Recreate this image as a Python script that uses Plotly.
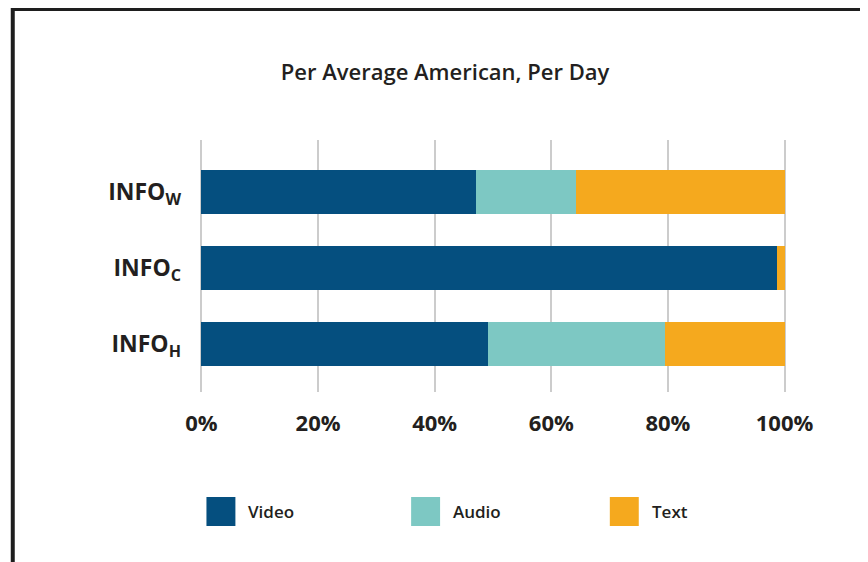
import plotly.graph_objects as go

categories = ["INFO<sub>H</sub>", "INFO<sub>C</sub>", "INFO<sub>W</sub>"]
series_names = ["Video", "Audio", "Text"]
video = [49.2, 98.7, 47.0]
audio = [30.3, 0.0, 17.2]
text = [20.5, 1.3, 35.8]
tick_vals = [0, 20, 40, 60, 80, 100]
tick_text = ["0%", "20%", "40%", "60%", "80%", "100%"]
colors = ["#054f7f", "#7dc8c3", "#f5a91e"]

OFF = 8  # page body margin
W, H = 868 - OFF, 562 - OFF
X0P, X100P, T, B = 201 - OFF, 785 - OFF, 140 - OFF, 392 - OFF
PAD = 0.25  # small range padding so edge gridlines are drawn
ppu = (X100P - X0P) / 100.0
L = X0P - PAD * ppu
R = X100P + PAD * ppu


def px(x):
    return (x - OFF - L) / (R - L)


def py(y):
    return (B - (y - OFF)) / (B - T)


FONT = "Open Sans"
fig = go.Figure()
for name, vals, col in zip(series_names, [video, audio, text], colors):
    fig.add_trace(go.Bar(
        y=categories, x=vals, name=name, orientation="h",
        marker=dict(color=col, line=dict(width=0)), width=0.58,
        showlegend=False, hoverinfo="x+name",
    ))

shapes = []
annotations = []
# border of image
shapes.append(dict(type="rect", xref="paper", yref="paper",
                   x0=px(12), x1=px(900), y0=py(9), y1=py(600),
                   line=dict(color="#1e1e1e", width=4), layer="above"))

# legend drawn with shapes and annotations
leg_x = [206, 411, 610]
for name, col, x0 in zip(series_names, colors, leg_x):
    shapes.append(dict(type="rect", xref="paper", yref="paper",
                       x0=px(x0), x1=px(x0 + 29), y0=py(497), y1=py(526),
                       fillcolor=col, line=dict(width=0)))
    annotations.append(dict(xref="paper", yref="paper", x=px(x0 + 40), y=py(511.5),
                            text=name, showarrow=False, xanchor="left", yanchor="middle",
                            font=dict(family=FONT, size=17, color="#231f20", weight=600)))

fig.update_layout(
    width=W, height=H,
    margin=dict(l=L, r=W - R, t=T, b=H - B),
    paper_bgcolor="white", plot_bgcolor="white",
    barmode="stack", bargap=0.42,
    title=dict(text="Per Average American, Per Day", x=px(445), xref="paper",
               xanchor="center", y=1 - (72 - OFF) / H, yanchor="middle",
               font=dict(family=FONT, size=22, color="#231f20", weight=600)),
    xaxis=dict(range=[-PAD, 100 + PAD], tickvals=tick_vals, ticktext=tick_text,
               showgrid=True, gridcolor="#cccccc", gridwidth=2, zeroline=False,
               showline=False, ticks="", ticklabelstandoff=16,
               tickfont=dict(family=FONT, size=22, color="#231f20", weight=700)),
    yaxis=dict(type="category", categoryorder="array", categoryarray=categories,
               range=[-0.63, 2.68], showgrid=False, zeroline=False, showline=False,
               ticks="", ticklabelstandoff=18,
               tickfont=dict(family=FONT, size=23, color="#231f20", weight=700)),
    shapes=shapes, annotations=annotations,
)

fig.write_html("out.html")
